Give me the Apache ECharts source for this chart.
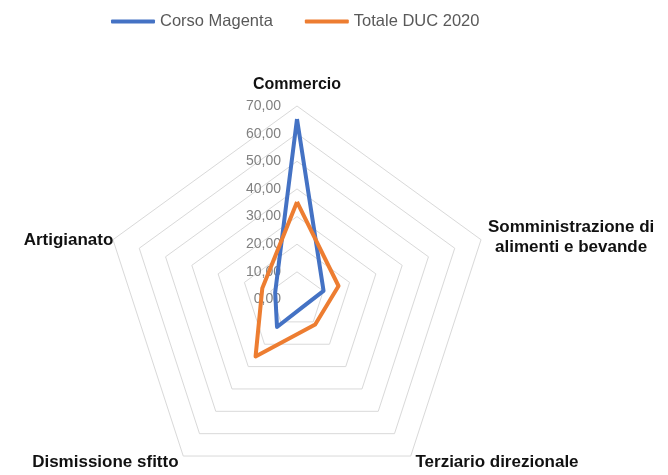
<!DOCTYPE html>
<html>
<head>
<meta charset="utf-8">
<script src="https://cdn.jsdelivr.net/npm/echarts@6/dist/echarts.min.js"></script>
<style>html,body{margin:0;padding:0;background:#fff;}#c{width:668px;height:475px;}</style>
</head>
<body>
<div id="c"></div>
<script>
// Indicators in drawing order (ECharts lays them out counter-clockwise from the top)
const categories = ['Commercio', 'Artigianato', 'Dismissione sfitto', 'Terziario direzionale', 'Somministrazione di\nalimenti e bevande'];
const corsoMagenta = [65.3, 8.3, 12.3, 3.4, 10.1];
const totaleDUC = [35.3, 13.2, 25.5, 11.2, 15.8];
const seriesNames = ['Corso Magenta', 'Totale DUC 2020'];
const axisMax = 70;
const axisSplits = 7;

const chart = echarts.init(document.getElementById('c'), null, {renderer: 'canvas'});
const nameFont = 'Liberation Sans, Arial, sans-serif';
chart.setOption({
  animation: false,
  backgroundColor: '#ffffff',
  color: ['#4472C4', '#ED7D31'],
  legend: {
    top: 8,
    left: 106,
    itemWidth: 44,
    itemHeight: 4,
    itemGap: 32,
    icon: 'roundRect',
    textStyle: {fontFamily: nameFont, fontSize: 16.5, color: '#595959'},
    data: seriesNames
  },
  radar: {
    center: [297, 299.5],
    radius: 193.5,
    startAngle: 90,
    shape: 'polygon',
    splitNumber: axisSplits,
    nameGap: 8,
    axisName: {
      color: '#111',
      fontFamily: nameFont,
      fontSize: 17,
      fontWeight: 'bold',
      formatter: function (name) {
        if (name.indexOf('\n') >= 0) {
          return name.split('\n').map(s => '{m|' + s + '}').join('\n');
        }
        if (name === 'Commercio') return '{t|' + name + '}';
        if (name === 'Artigianato') return '{l|' + name + '}';
        return name;
      },
      rich: {
        m: {fontFamily: nameFont, fontSize: 17, fontWeight: 'bold', color: '#111', align: 'center', width: 165, lineHeight: 20},
        t: {fontFamily: nameFont, fontSize: 16, fontWeight: 'bold', color: '#111', padding: [0,0,5,0]},
        l: {fontFamily: nameFont, fontSize: 17, fontWeight: 'bold', color: '#111', padding: [6,-8,0,0]}
      }
    },
    axisLine: {show: false},
    axisTick: {show: false},
    splitArea: {show: false},
    splitLine: {lineStyle: {color: '#d9d9d9', width: 1}},
    axisLabel: {show: false},
    indicator: categories.map((c, i) => ({
      name: c, min: 0, max: axisMax,
      axisLabel: i === 0 ? {
        show: true, color: '#808080', fontFamily: nameFont, fontSize: 14, margin: 16,
        formatter: v => Number(v).toFixed(2).replace('.', ',')
      } : {show: false}
    }))
  },
  series: [{
    type: 'radar',
    symbol: 'none',
    lineStyle: {width: 4},
    data: [
      {name: seriesNames[0], value: corsoMagenta, lineStyle: {color: '#4472C4', width: 4}, itemStyle: {color: '#4472C4'}},
      {name: seriesNames[1], value: totaleDUC, lineStyle: {color: '#ED7D31', width: 4}, itemStyle: {color: '#ED7D31'}}
    ]
  }]
});
</script>
</body>
</html>
